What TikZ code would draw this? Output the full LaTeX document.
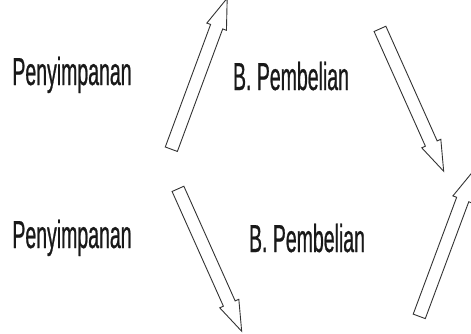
\documentclass[tikz,border=0pt]{standalone}
\usepackage{fontspec}
\newfontfamily\narrowsans[FakeStretch=0.5, FakeBold=0.6]{Liberation Sans}
\usetikzlibrary{shapes.arrows, positioning}

\begin{document}
\begin{tikzpicture}[
    x=1pt, y=-1pt,
    label/.style={anchor=base, inner sep=0pt, text=black!90, font=\narrowsans\fontsize{39}{42}\selectfont},
    blockarrow/.style={single arrow, draw=black!80, line width=0.9pt, fill=white, inner sep=6pt, single arrow head extend=4pt, single arrow tip angle=38, single arrow head indent=0pt, minimum height=156pt}
]
    \useasboundingbox (0,0) rectangle (471,333);
    \node[label] (storeA) at (72,85) {Penyimpanan};
    \node[label] (buyA) at (291,90) {B. Pembelian};
    \node[label] (storeB) at (72,248) {Penyimpanan};
    \node[label] (buyB) at (307,252) {B. Pembelian};
    \node[blockarrow, rotate=69.7, minimum height=161pt] (upA) at (196,82.5) {};
    \node[blockarrow, rotate=-65.9] (downA) at (408,91.5) {};
    \node[blockarrow, rotate=-65.9] (downB) at (206,251.5) {};
    \node[blockarrow, rotate=69.6, minimum height=155pt] (upB) at (443,252.5) {};
\end{tikzpicture}
\end{document}
